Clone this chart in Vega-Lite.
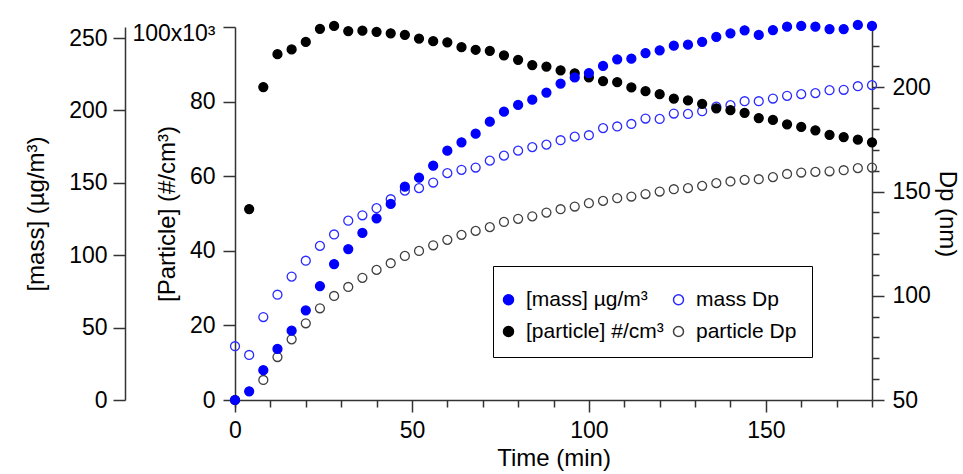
{
  "$schema": "https://vega.github.io/schema/vega-lite/v6.json",
  "width": 637,
  "height": 373,
  "autosize": {"type": "none"},
  "padding": {"left": 235, "top": 27, "right": 91, "bottom": 74},
  "background": "white",
  "config": {
    "view": {"stroke": null},
    "font": "Liberation Sans",
    "axis": {
      "grid": false,
      "domainColor": "#333",
      "domainWidth": 1.5,
      "tickColor": "#333",
      "tickWidth": 1.5,
      "tickSize": 12,
      "labelFont": "Liberation Sans",
      "labelFontSize": 23,
      "labelColor": "#000",
      "labelFlush": false,
      "labelOverlap": false,
      "titleFont": "Liberation Sans",
      "titleFontSize": 24,
      "titleFontWeight": "normal",
      "titleColor": "#000"
    },
    "legend": {
      "labelFont": "Liberation Sans",
      "labelFontSize": 21,
      "labelColor": "#000"
    }
  },
  "data": {
    "values": [
      {"t": 0, "mass": 0, "particle": 0, "massDp": 75.8, "particleDp": null},
      {"t": 4, "mass": 6.0, "particle": 51200, "massDp": 71.6, "particleDp": null},
      {"t": 8, "mass": 20.6, "particle": 83900, "massDp": 89.8, "particleDp": 59.6},
      {"t": 12, "mass": 35.3, "particle": 92700, "massDp": 100.5, "particleDp": 70.6},
      {"t": 16, "mass": 47.9, "particle": 94000, "massDp": 109.2, "particleDp": 79.1},
      {"t": 20, "mass": 61.9, "particle": 96000, "massDp": 116.8, "particleDp": 86.8},
      {"t": 24, "mass": 78.7, "particle": 99500, "massDp": 123.9, "particleDp": 94.0},
      {"t": 28, "mass": 93.9, "particle": 100300, "massDp": 129.4, "particleDp": 99.9},
      {"t": 32, "mass": 104.2, "particle": 98900, "massDp": 136.0, "particleDp": 104.2},
      {"t": 36, "mass": 115.4, "particle": 99000, "massDp": 138.6, "particleDp": 108.6},
      {"t": 40, "mass": 125.5, "particle": 98700, "massDp": 142.0, "particleDp": 112.4},
      {"t": 44, "mass": 135.4, "particle": 98300, "massDp": 146.3, "particleDp": 115.6},
      {"t": 48, "mass": 147.3, "particle": 97900, "massDp": 150.4, "particleDp": 119.1},
      {"t": 52, "mass": 153.5, "particle": 96900, "massDp": 151.6, "particleDp": 121.5},
      {"t": 56, "mass": 161.8, "particle": 96200, "massDp": 154.3, "particleDp": 124.2},
      {"t": 60, "mass": 172.2, "particle": 95900, "massDp": 158.8, "particleDp": 126.8},
      {"t": 64, "mass": 178.0, "particle": 94600, "massDp": 160.4, "particleDp": 129.2},
      {"t": 68, "mass": 183.9, "particle": 93900, "massDp": 161.5, "particleDp": 131.1},
      {"t": 72, "mass": 192.2, "particle": 93600, "massDp": 164.8, "particleDp": 132.9},
      {"t": 76, "mass": 199.1, "particle": 92400, "massDp": 167.2, "particleDp": 135.4},
      {"t": 80, "mass": 203.8, "particle": 91200, "massDp": 169.6, "particleDp": 136.9},
      {"t": 84, "mass": 207.4, "particle": 89800, "massDp": 171.3, "particleDp": 138.1},
      {"t": 88, "mass": 212.3, "particle": 89400, "massDp": 172.5, "particleDp": 139.9},
      {"t": 92, "mass": 218.5, "particle": 88400, "massDp": 174.6, "particleDp": 141.5},
      {"t": 96, "mass": 222.8, "particle": 87600, "massDp": 176.3, "particleDp": 142.8},
      {"t": 100, "mass": 225.8, "particle": 86500, "massDp": 177.0, "particleDp": 144.4},
      {"t": 104, "mass": 230.7, "particle": 85500, "massDp": 180.4, "particleDp": 145.5},
      {"t": 108, "mass": 235.3, "particle": 85200, "massDp": 181.2, "particleDp": 146.8},
      {"t": 112, "mass": 235.7, "particle": 83800, "massDp": 182.4, "particleDp": 147.6},
      {"t": 116, "mass": 239.6, "particle": 82800, "massDp": 185.0, "particleDp": 148.8},
      {"t": 120, "mass": 241.5, "particle": 82000, "massDp": 184.8, "particleDp": 150.0},
      {"t": 124, "mass": 244.7, "particle": 80800, "massDp": 187.4, "particleDp": 151.1},
      {"t": 128, "mass": 245.4, "particle": 80300, "massDp": 187.2, "particleDp": 151.6},
      {"t": 132, "mass": 247.4, "particle": 79400, "massDp": 188.5, "particleDp": 152.7},
      {"t": 136, "mass": 250.7, "particle": 78200, "massDp": 190.7, "particleDp": 154.0},
      {"t": 140, "mass": 253.2, "particle": 77700, "massDp": 191.4, "particleDp": 154.8},
      {"t": 144, "mass": 255.3, "particle": 77000, "massDp": 193.3, "particleDp": 155.6},
      {"t": 148, "mass": 252.1, "particle": 75600, "massDp": 193.3, "particleDp": 155.9},
      {"t": 152, "mass": 255.5, "particle": 75100, "massDp": 194.6, "particleDp": 156.9},
      {"t": 156, "mass": 257.8, "particle": 73900, "massDp": 195.9, "particleDp": 158.4},
      {"t": 160, "mass": 258.3, "particle": 73200, "massDp": 196.7, "particleDp": 159.1},
      {"t": 164, "mass": 257.8, "particle": 72300, "massDp": 197.2, "particleDp": 159.4},
      {"t": 168, "mass": 256.2, "particle": 71100, "massDp": 198.6, "particleDp": 159.7},
      {"t": 172, "mass": 256.2, "particle": 70500, "massDp": 198.8, "particleDp": 160.2},
      {"t": 176, "mass": 259.0, "particle": 69800, "massDp": 200.5, "particleDp": 161.2},
      {"t": 180, "mass": 258.3, "particle": 69100, "massDp": 201.0, "particleDp": 161.5}
    ]
  },
  "layer": [
    {
      "mark": {"type": "point", "shape": "circle", "filled": true, "size": 80, "strokeWidth": 1.3, "opacity": 1},
      "encoding": {
        "x": {
          "field": "t", "type": "quantitative",
          "scale": {"domain": [0, 180], "nice": false, "zero": false},
          "axis": {"orient": "bottom", "title": null, "values": [0, 10, 20, 30, 40, 60, 70, 80, 90, 110, 120, 130, 140, 160, 170, 180], "labels": false, "tickSize": 7, "domain": false}
        },
        "y": {
          "field": "particleDp", "type": "quantitative",
          "scale": {"domain": [50, 228.9], "nice": false, "zero": false},
          "axis": {"orient": "right", "title": null, "values": [60, 70, 80, 90, 110, 120, 130, 140, 160, 170, 180, 190, 210, 220], "labels": false, "tickSize": 7, "domain": false}
        },
        "fill": {"datum": "particle Dp", "type": "nominal"},
        "stroke": {"datum": "particle Dp", "type": "nominal"}
      }
    },
    {
      "mark": {"type": "point", "shape": "circle", "filled": true, "size": 80, "strokeWidth": 1.3, "opacity": 1},
      "encoding": {
        "x": {"field": "t", "type": "quantitative", "axis": null},
        "y": {
          "field": "massDp", "type": "quantitative",
          "scale": {"domain": [50, 228.9], "nice": false, "zero": false},
          "axis": {"orient": "right", "title": "Dp (nm)", "values": [50, 100, 150, 200], "labelPadding": 8, "titlePadding": 4}
        },
        "fill": {"datum": "mass Dp", "type": "nominal"},
        "stroke": {"datum": "mass Dp", "type": "nominal"}
      }
    },
    {
      "mark": {"type": "point", "shape": "circle", "filled": true, "size": 80, "strokeWidth": 1.3, "opacity": 1},
      "encoding": {
        "x": {"field": "t", "type": "quantitative", "axis": null},
        "y": {
          "field": "particle", "type": "quantitative",
          "scale": {"domain": [0, 100000], "nice": false, "zero": false},
          "axis": {
            "orient": "left", "title": "[Particle] (#/cm³)",
            "values": [0, 20000, 40000, 60000, 80000, 100000],
            "labelExpr": "datum.value == 100000 ? '100x10³' : format(datum.value / 1000, 'd')",
            "labelOffset": {"condition": {"test": "datum.value == 100000", "value": 6}, "value": 0},
            "labelPadding": 8,
            "titlePadding": -48
          }
        },
        "fill": {"datum": "[particle] #/cm³", "type": "nominal"},
        "stroke": {"datum": "[particle] #/cm³", "type": "nominal"}
      }
    },
    {
      "mark": {"type": "point", "shape": "circle", "filled": true, "size": 80, "strokeWidth": 1.3, "opacity": 1},
      "encoding": {
        "x": {
          "field": "t", "type": "quantitative",
          "axis": {"orient": "bottom", "title": "Time (min)", "values": [0, 50, 100, 150], "labelPadding": 7, "titlePadding": 4}
        },
        "y": {
          "field": "mass", "type": "quantitative",
          "scale": {"domain": [0, 257.6], "nice": false, "zero": false},
          "axis": {"orient": "left", "offset": 110, "title": "[mass] (µg/m³)", "values": [0, 50, 100, 150, 200, 250], "labelPadding": 6, "titlePadding": 20}
        },
        "fill": {
          "datum": "[mass] µg/m³", "type": "nominal",
          "scale": {"domain": ["[mass] µg/m³", "mass Dp", "[particle] #/cm³", "particle Dp"], "range": ["#0000ff", "transparent", "#000000", "transparent"]},
          "legend": {
            "title": " ", "titleFontSize": 8, "titlePadding": 0, "orient": "none", "legendX": 258, "legendY": 239, "columns": 2, "direction": "horizontal",
            "strokeColor": "#000", "padding": 15, "symbolType": "circle", "symbolSize": 100, "symbolOffset": -10,
            "symbolStrokeWidth": 1.5, "symbolOpacity": 1, "labelOffset": 7, "columnPadding": 6, "rowPadding": 10
          }
        },
        "stroke": {
          "datum": "[mass] µg/m³", "type": "nominal",
          "scale": {"domain": ["[mass] µg/m³", "mass Dp", "[particle] #/cm³", "particle Dp"], "range": ["#0000ff", "#2b2bff", "#000000", "#404040"]},
          "legend": {
            "title": " ", "titleFontSize": 8, "titlePadding": 0, "orient": "none", "legendX": 258, "legendY": 239, "columns": 2, "direction": "horizontal",
            "strokeColor": "#000", "padding": 15, "symbolType": "circle", "symbolSize": 100, "symbolOffset": -10,
            "symbolStrokeWidth": 1.5, "symbolOpacity": 1, "labelOffset": 7, "columnPadding": 6, "rowPadding": 10
          }
        }
      }
    }
  ],
  "resolve": {
    "scale": {"y": "independent"},
    "axis": {"x": "independent", "y": "independent"}
  }
}
